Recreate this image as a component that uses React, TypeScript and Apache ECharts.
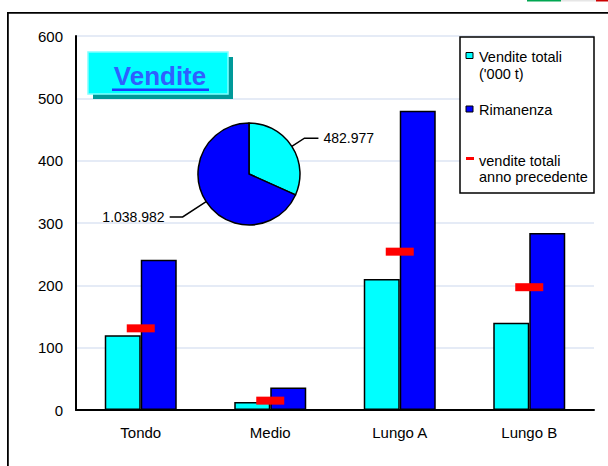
import React, { useEffect, useRef } from "react";
import * as echarts from "echarts";

const categories = ["Tondo", "Medio", "Lungo A", "Lungo B"];
const venditeTotali = [120, 13, 210, 140];
const rimanenza = [241, 36, 480, 284];
const annoPrecedente = [131, 15, 254, 197];
const pieNames = ["Vendite totali", "Rimanenza"];
const pieValues = [482977, 1038982];
const yMin = 0;
const yMax = 600;
const yInterval = 100;

const FONT = "'Liberation Sans', Arial, sans-serif";
const CYAN = "#00ffff";
const BLUE = "#0000ff";
const RED = "#ff0000";

const fmt = (v: number) => String(v).replace(/\B(?=(\d{3})+(?!\d))/g, ".");

export default function App() {
  const ref = useRef<HTMLDivElement>(null);
  useEffect(() => {
    document.body.style.margin = "0";
    const chart = echarts.init(ref.current!, null, { renderer: "svg" });
    const option: any = {
      animation: false,
      backgroundColor: "#ffffff",
      grid: { left: 76, right: 14, top: 36, bottom: 56, containLabel: false },
      xAxis: {
        type: "category",
        data: categories,
        axisLine: { lineStyle: { color: "#000", width: 2 } },
        axisTick: { show: false },
        axisLabel: { color: "#000", fontSize: 15, fontFamily: FONT, margin: 15 },
      },
      yAxis: {
        type: "value",
        min: yMin,
        max: yMax,
        interval: yInterval,
        axisLine: { show: true, lineStyle: { color: "#000", width: 2 } },
        axisTick: { show: false },
        axisLabel: { color: "#000", fontSize: 15, fontFamily: FONT, margin: 13 },
        splitLine: { lineStyle: { color: "#dce4f3", width: 1.5 } },
      },
      series: [
        {
          name: "Vendite totali",
          type: "bar",
          data: venditeTotali,
          barWidth: 36,
          barGap: "0%",
          itemStyle: { color: CYAN, borderColor: "#000", borderWidth: 1.5 },
          z: 2,
        },
        {
          name: "Rimanenza",
          type: "bar",
          data: rimanenza,
          barWidth: 36,
          barGap: "0%",
          itemStyle: { color: BLUE, borderColor: "#000", borderWidth: 1.5 },
          z: 2,
        },
        {
          name: "vendite totali anno precedente",
          type: "scatter",
          data: annoPrecedente,
          symbol: "rect",
          symbolSize: [28, 8],
          itemStyle: { color: RED, opacity: 1 },
          z: 5,
        },
        {
          name: "Totale",
          type: "pie",
          center: [249, 174],
          radius: 51,
          startAngle: 90,
          clockwise: true,
          z: 4,
          itemStyle: { borderColor: "#000", borderWidth: 1.5 },
          label: {
            show: true,
            position: "outside",
            color: "#000",
            fontSize: 14,
            fontFamily: FONT,
            formatter: (p: any) => fmt(p.value),
          },
          labelLine: { show: true, lineStyle: { color: "#000", width: 1.5 }, smooth: false },
          data: [
            {
              name: pieNames[0],
              value: pieValues[0],
              itemStyle: { color: CYAN },
              labelLine: { length: 15, length2: 14 },
            },
            {
              name: pieNames[1],
              value: pieValues[1],
              itemStyle: { color: BLUE },
              labelLine: { length: 28, length2: 13 },
            },
          ],
        },
      ],
      graphic: [
        { type: "rect", z: 100, shape: { x: 7, y: 12, width: 601, height: 1.7 }, style: { fill: "#000" } },
        { type: "rect", z: 100, shape: { x: 7, y: 12, width: 1.8, height: 454 }, style: { fill: "#000" } },
        { type: "rect", z: 100, shape: { x: 527, y: 0, width: 34, height: 1.5 }, style: { fill: "#00a651" } },
        { type: "rect", z: 100, shape: { x: 561, y: 0, width: 35, height: 1.5 }, style: { fill: "#e6e6e6" } },
        { type: "rect", z: 100, shape: { x: 596, y: 0, width: 12, height: 1.5 }, style: { fill: "#cc0000" } },
        // title box
        { type: "rect", z: 100, shape: { x: 93, y: 57, width: 140, height: 42 }, style: { fill: "#009999" } },
        { type: "rect", z: 101, shape: { x: 88, y: 52, width: 140, height: 42 }, style: { fill: CYAN, stroke: "#7fffff", lineWidth: 1.5 } },
        {
          type: "text", z: 102, x: 160, y: 76,
          style: { text: "Vendite", fill: "#2f5fff", font: `bold 26px ${FONT}`, textAlign: "center", textVerticalAlign: "middle" },
        },
        { type: "rect", z: 102, shape: { x: 112, y: 88.5, width: 97, height: 2.5 }, style: { fill: "#1a3cff" } },
        // legend
        { type: "rect", z: 100, shape: { x: 460, y: 37, width: 134, height: 156 }, style: { fill: "#fff", stroke: "#000", lineWidth: 1.5 } },
        { type: "rect", z: 101, shape: { x: 466, y: 52.5, width: 7, height: 6 }, style: { fill: CYAN, stroke: "#000", lineWidth: 1 } },
        { type: "text", z: 101, x: 479, y: 57, style: { text: "Vendite totali", fill: "#000", font: `14.5px ${FONT}`, textVerticalAlign: "middle" } },
        { type: "text", z: 101, x: 479, y: 73.5, style: { text: "('000 t)", fill: "#000", font: `14.5px ${FONT}`, textVerticalAlign: "middle" } },
        { type: "rect", z: 101, shape: { x: 466, y: 106, width: 7, height: 6 }, style: { fill: BLUE, stroke: "#000", lineWidth: 1 } },
        { type: "text", z: 101, x: 479, y: 109.5, style: { text: "Rimanenza", fill: "#000", font: `14.5px ${FONT}`, textVerticalAlign: "middle" } },
        { type: "rect", z: 101, shape: { x: 466, y: 157, width: 8, height: 3 }, style: { fill: RED } },
        { type: "text", z: 101, x: 479, y: 161, style: { text: "vendite totali", fill: "#000", font: `14.5px ${FONT}`, textVerticalAlign: "middle" } },
        { type: "text", z: 101, x: 479, y: 177, style: { text: "anno precedente", fill: "#000", font: `14.5px ${FONT}`, textVerticalAlign: "middle" } },
      ],
    };
    chart.setOption(option);
    return () => chart.dispose();
  }, []);
  return (
    <div
      ref={ref}
      style={{ position: "fixed", left: 0, top: 0, width: 608, height: 466 }}
    />
  );
}
